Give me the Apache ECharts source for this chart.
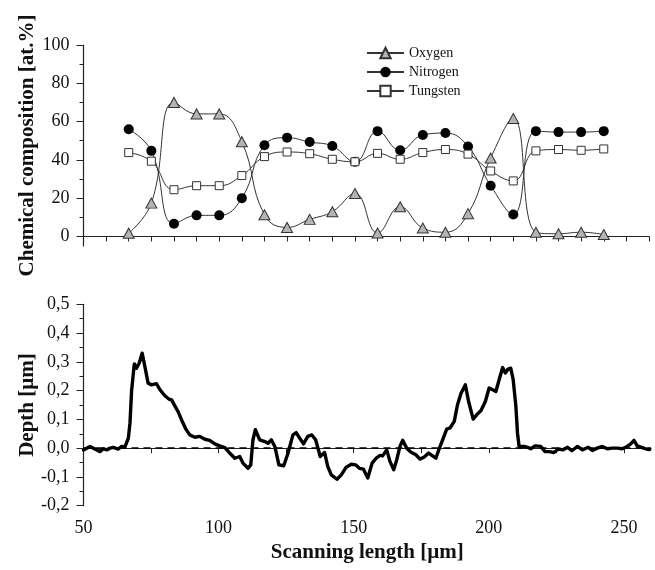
<!DOCTYPE html>
<html>
<head>
<meta charset="utf-8">
<script src="https://cdn.jsdelivr.net/npm/echarts@6/dist/echarts.min.js"></script>
<style>
  html, body { margin: 0; padding: 0; background: #fff; }
  #chart { width: 655px; height: 570px; }
</style>
</head>
<body>
<div id="chart"></div>
<script>
// Composition measured at analysis spots along the scan (spot index on the upper axis)
const spots = [2, 3, 4, 5, 6, 7, 8, 9, 10, 11, 12, 13, 14, 15, 16, 17, 18, 19, 20, 21, 22, 23];
const oxygen = [1.7, 17.4, 70, 64, 64, 49.5, 11.3, 4.7, 8.9, 12.9, 22.4, 1.8, 15.5, 4.4, 2.2, 11.9, 41, 61.6, 2.2, 1.4, 2.2, 1];
const nitrogen = [56, 44.7, 6.6, 11, 11, 20, 47.6, 51.6, 49.3, 47.2, 39, 55, 45, 53, 54, 47, 26.5, 11.5, 55, 54.5, 54.5, 55];
const tungsten = [43.8, 39.3, 24.4, 26.5, 26.5, 31.8, 41.7, 44.1, 43.2, 40.3, 39, 43.4, 40.3, 43.8, 45.4, 43, 34.2, 29, 44.7, 45.4, 45, 45.7];

// Surface profile: scanning length (µm) and depth (µm)
const scanLength = [
  50, 52.4, 54.2, 56.1, 57.3, 58.6, 59.8, 61, 62.9, 64.1,
  65.3, 66.6, 67.2, 67.8, 68.8, 69.6, 70.6, 71.7, 72.7, 73.9,
  75.2, 77, 78.3, 80.1, 81.7, 82.6, 83.8, 85, 86.3, 87.9,
  89.3, 91.2, 93, 94.9, 96.7, 98.6, 100.4, 102.3, 103.9, 106,
  107.8, 109, 110.9, 111.9, 112.7, 113.6, 115.2, 117.1, 118.3, 119.5,
  120.8, 122.3, 124.1, 125.7, 127.5, 128.7, 130, 131.4, 133, 134.5,
  135.9, 137.6, 139.2, 140.4, 141.7, 143.8, 145.4, 147.2, 149.1, 150.7,
  152.1, 153.6, 155.2, 156.8, 158.3, 159.8, 160.7, 162.2, 163.4, 164.8,
  165.9, 167.1, 168.1, 169.6, 171.2, 173, 174.5, 176.1, 177.7, 179.2,
  180.4, 181.7, 182.9, 184.4, 185.6, 187.2, 188.4, 189.7, 191.3, 192.5,
  194.2, 195.8, 197.1, 198.7, 200.1, 201.4, 202.6, 203.8, 205.1, 206.1,
  207.1, 208.1, 209, 210, 210.6, 211.2, 213.1, 214.3, 215.5, 217.1,
  219.2, 220.8, 222.3, 224.1, 225.7, 227.5, 229.1, 230.7, 232.8, 234.6,
  236.8, 238.3, 240.1, 242, 243.8, 245.7, 247.5, 249.4, 251.2, 252.5,
  253.7, 254.9, 256.5, 258.2, 259.5
];
const depth = [
  -0.006, 0.006, -0.003, -0.012, -0.002, -0.006, 0, 0.003, -0.003, 0.006,
  0.004, 0.035, 0.087, 0.2, 0.293, 0.278, 0.295, 0.33, 0.284, 0.226,
  0.22, 0.224, 0.203, 0.182, 0.17, 0.168, 0.147, 0.127, 0.098, 0.066,
  0.046, 0.038, 0.041, 0.031, 0.027, 0.015, 0.008, 0.002, -0.015, -0.035,
  -0.029, -0.052, -0.07, -0.058, 0.029, 0.064, 0.029, 0.023, 0.017, 0.029,
  0.006, -0.058, -0.061, -0.017, 0.046, 0.054, 0.035, 0.015, 0.041, 0.046,
  0.029, -0.029, -0.015, -0.064, -0.093, -0.108, -0.093, -0.066, -0.056, -0.058,
  -0.07, -0.073, -0.104, -0.052, -0.035, -0.025, -0.027, -0.006, -0.046, -0.075,
  -0.041, 0.006, 0.027, 0, -0.014, -0.023, -0.038, -0.031, -0.017, -0.027,
  -0.035, 0, 0.029, 0.066, 0.07, 0.093, 0.151, 0.191, 0.22, 0.162,
  0.101, 0.119, 0.131, 0.162, 0.209, 0.203, 0.197, 0.238, 0.28, 0.261,
  0.275, 0.278, 0.238, 0.145, 0.052, 0.006, 0.006, 0.003, -0.002, 0.008,
  0.006, -0.012, -0.012, -0.015, -0.003, -0.006, 0.003, -0.009, 0.006, -0.006,
  0.003, -0.008, 0, 0.006, -0.002, 0, 0, -0.002, 0.006, 0.015,
  0.027, 0.008, 0.003, -0.003, -0.005
];

// Tick values
const compLabelTicks = [0, 20, 40, 60, 80, 100];
const compMinorTicks = [10, 30, 50, 70, 90];
const scanLabelTicks = [50, 100, 150, 200, 250];
const scanTicks = [50, 75, 100, 125, 150, 175, 200, 225, 250];

const FONT = '"Liberation Serif", "DejaVu Serif", serif';
const INK = '#111';
const AXIS = { lineStyle: { color: '#222', width: 1.2 } };

const pair = (xs, ys) => xs.map((x, i) => [x, ys[i]]);

const chart = echarts.init(document.getElementById('chart'), null, { renderer: 'canvas' });

chart.setOption({
  animation: false,
  backgroundColor: '#fff',
  textStyle: { fontFamily: FONT, color: INK },
  grid: [
    { left: 83.5, top: 45, width: 565.5, height: 201 },
    { left: 83.5, top: 304.3, width: 567.5, height: 201.4 }
  ],
  legend: {
    orient: 'vertical',
    left: 366,
    top: 46,
    padding: 0,
    itemWidth: 37,
    itemHeight: 13,
    itemGap: 5,
    textStyle: { fontFamily: FONT, fontSize: 14, color: INK },
    data: ['Oxygen', 'Nitrogen', 'Tungsten']
  },
  xAxis: [
    {
      type: 'value', gridIndex: 0, min: 0, max: 25, interval: 1,
      axisLine: AXIS,
      axisTick: { length: 5, lineStyle: { color: '#222' } },
      axisLabel: { show: false },
      splitLine: { show: false }
    },
    {
      type: 'value', gridIndex: 1, min: 50, max: 260,
      axisLine: AXIS,
      axisTick: { length: 5, customValues: scanTicks, lineStyle: { color: '#222' } },
      axisLabel: { customValues: scanLabelTicks, fontSize: 18, fontFamily: FONT, color: INK, margin: 14 },
      splitLine: { show: false },
      name: 'Scanning length [µm]',
      nameLocation: 'middle',
      nameGap: 36,
      nameMoveOverlap: false,
      nameTextStyle: { fontFamily: FONT, fontSize: 21, fontWeight: 'bold', color: INK }
    }
  ],
  yAxis: [
    {
      type: 'value', gridIndex: 0, min: -5, max: 100,
      axisLine: AXIS,
      axisTick: { length: 7, customValues: compLabelTicks, lineStyle: { color: '#222' } },
      axisLabel: { customValues: compLabelTicks, fontSize: 18, fontFamily: FONT, color: INK, margin: 14 },
      splitLine: { show: false },
      name: 'Chemical composition [at.%]',
      nameLocation: 'middle',
      nameRotate: 90,
      nameGap: 45,
      nameMoveOverlap: false,
      nameTextStyle: { fontFamily: FONT, fontSize: 21, fontWeight: 'bold', color: INK }
    },
    {
      type: 'value', gridIndex: 0, min: -5, max: 100, position: 'left', offset: 0,
      axisLine: { show: false },
      axisTick: { length: 4, customValues: compMinorTicks, lineStyle: { color: '#222' } },
      axisLabel: { show: false },
      splitLine: { show: false }
    },
    {
      type: 'value', gridIndex: 1, min: -0.2, max: 0.5, interval: 0.1,
      axisLine: AXIS,
      axisTick: { length: 7, lineStyle: { color: '#222' } },
      minorTick: { show: true, splitNumber: 2, length: 4, lineStyle: { color: '#222' } },
      axisLabel: {
        fontSize: 18, fontFamily: FONT, color: INK, margin: 14,
        formatter: v => v.toFixed(1).replace('.', ',')
      },
      splitLine: { show: false },
      name: 'Depth [µm]',
      nameLocation: 'middle',
      nameRotate: 90,
      nameGap: 45,
      nameMoveOverlap: false,
      nameTextStyle: { fontFamily: FONT, fontSize: 21, fontWeight: 'bold', color: INK }
    }
  ],
  series: [
    {
      name: 'Oxygen', type: 'line', xAxisIndex: 0, yAxisIndex: 0,
      data: pair(spots, oxygen),
      smooth: 0.45,
      symbol: 'triangle', symbolSize: [11, 10],
      itemStyle: { color: '#b4b4b4', borderColor: '#333', borderWidth: 1 },
      lineStyle: { color: '#333', width: 1 },
      z: 3
    },
    {
      name: 'Nitrogen', type: 'line', xAxisIndex: 0, yAxisIndex: 0,
      data: pair(spots, nitrogen),
      smooth: 0.45,
      symbol: 'circle', symbolSize: 10,
      itemStyle: { color: '#000', borderColor: '#000', borderWidth: 0 },
      lineStyle: { color: '#333', width: 1 },
      z: 4
    },
    {
      name: 'Tungsten', type: 'line', xAxisIndex: 0, yAxisIndex: 0,
      data: pair(spots, tungsten),
      smooth: 0.45,
      symbol: 'rect', symbolSize: 8,
      itemStyle: { color: '#fff', borderColor: '#333', borderWidth: 1 },
      lineStyle: { color: '#333', width: 1 },
      z: 5
    },
    {
      name: 'Depth', type: 'line', xAxisIndex: 1, yAxisIndex: 2,
      data: pair(scanLength, depth),
      showSymbol: false,
      symbol: 'none',
      lineStyle: { color: '#000', width: 3.4, join: 'round', cap: 'round' },
      markLine: {
        silent: true,
        symbol: ['none', 'none'],
        label: { show: false },
        lineStyle: { color: '#000', type: [7, 5], width: 1.5 },
        data: [{ yAxis: 0 }]
      },
      z: 6
    }
  ]
});
</script>
</body>
</html>
